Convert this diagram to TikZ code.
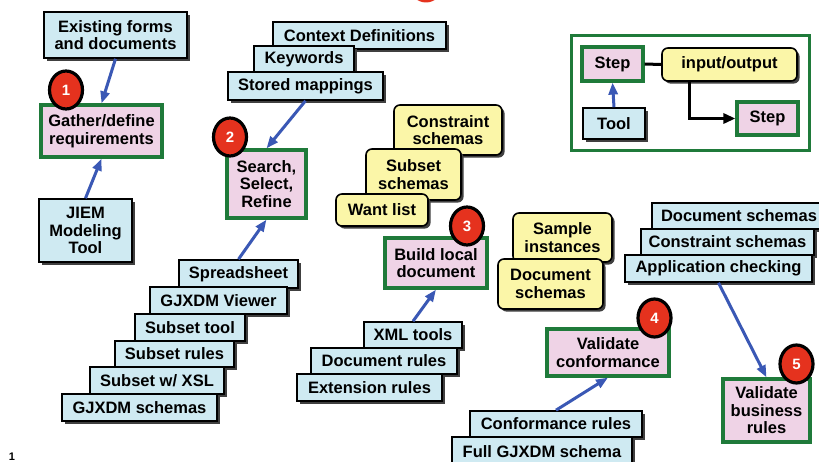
\documentclass[tikz,border=0pt]{standalone}
\usepackage{fontspec}
\setmainfont{Liberation Sans}
\usetikzlibrary{arrows.meta,shapes.geometric,shadows,calc}
\definecolor{stepfill}{HTML}{EFD3E6}
\definecolor{stepline}{HTML}{1F7A3A}
\definecolor{toolfill}{HTML}{CFEAF2}
\definecolor{iofill}{HTML}{FBF6A8}
\definecolor{badge}{HTML}{E5321E}
\definecolor{toolarrow}{HTML}{3A58B5}
\pgfdeclarelayer{bg}
\pgfsetlayers{bg,main}
\tikzset{
  lbl/.style={font=\bfseries\fontsize{16.5}{17.5}\selectfont, align=center, inner sep=0pt},
  shade/.style={drop shadow={shadow xshift=2.6pt, shadow yshift=-2.6pt, fill=black!75, opacity=1}},
  toolbox/.style={lbl, rectangle, fill=toolfill, draw=black, line width=1.6pt, shade},
  stepbox/.style={lbl, rectangle, fill=stepfill, draw=stepline, line width=3.2pt},
  iobox/.style={lbl, rectangle, rounded corners=6pt, fill=iofill, draw=black, line width=1.6pt, shade},
  numbadge/.style={ellipse, fill=badge, draw=black, line width=3.2pt, inner sep=0pt,
    minimum width=33pt, minimum height=38pt, text=white, font=\bfseries\fontsize{15}{15}\selectfont},
  flow/.style={draw=black, line width=3pt, -{Triangle[length=12pt,width=10pt]}},
  feed/.style={draw=toolarrow, line width=3pt, -{Triangle[length=12pt,width=9pt]}},
  sz/.style 2 args={minimum width=#1pt, minimum height=#2pt}
}
\begin{document}
\begin{tikzpicture}[x=1pt, y=-1pt]
\clip (0,0) rectangle (819,462);
\fill[white] (0,0) rectangle (819,462);

% edge of a badge that sits above the top border
\fill[badge] (426,-13.5) circle[radius=16pt];

% ---- legend ----
\node[draw=stepline, line width=3.2pt, sz={238}{115}, inner sep=0pt] (legend) at (690.5,93) {};
\node[stepbox, sz={61}{34}] (lstepa) at (612.5,64) {Step};
\node[iobox, sz={135}{33}] (lio) at (729.5,64.5) {input/output};
\node[toolbox, sz={62}{31}] (ltool) at (614,123.5) {Tool};
\node[stepbox, sz={61}{33}] (lstepb) at (767.5,118.5) {Step};
\draw[line width=3pt] (lstepa.east) -- (lio.west);
\draw[flow] ($(lio.south west)+(28,0)$) |- (lstepb.west);
\draw[feed] (ltool.north) -- (lstepa.south);

% ---- step 1 ----
\node[toolbox, sz={143}{46}] (existing) at (115.5,35) {Existing forms\\and documents};
\node[stepbox, sz={121}{52}] (gather) at (101.5,131) {Gather/define\\requirements};
\node[toolbox, sz={93}{63}] (jiem) at (85.5,230.5) {JIEM\\Modeling\\Tool};

% ---- step 2 ----
\node[toolbox, sz={173}{27}] (ctxdef) at (359.5,35.5) {Context Definitions};
\node[toolbox, sz={100}{26}] (keywords) at (304,59) {Keywords};
\node[toolbox, sz={155}{28}] (stored) at (305.5,86) {Stored mappings};
\node[stepbox, sz={79}{68}] (search) at (266.5,184) {Search,\\Select,\\Refine};

\node[toolbox, sz={119}{28}] (sheet) at (238.5,274) {Spreadsheet};
\node[toolbox, sz={137}{27}] (viewer) at (218.5,300.5) {GJXDM Viewer};
\node[toolbox, sz={110}{27}] (subtool) at (190,327.5) {Subset tool};
\node[toolbox, sz={119}{26}] (subrules) at (174.5,354) {Subset rules};
\node[toolbox, sz={134}{27}] (subxsl) at (157,380.5) {Subset w/ XSL};
\node[toolbox, sz={155}{27}] (gjschemas) at (139.5,407.5) {GJXDM schemas};

% ---- outputs of step 2 ----
\node[iobox, sz={108}{50}] (conschema) at (448,130) {Constraint\\schemas};
\node[iobox, sz={95}{51}] (subschema) at (413.5,174.5) {Subset\\schemas};
\node[iobox, sz={92}{32}] (want) at (382,210) {Want list};

% ---- step 3 ----
\node[stepbox, sz={102}{50}] (build) at (436,263) {Build local\\document};
\node[toolbox, sz={98}{26}] (xmltools) at (413,335) {XML tools};
\node[toolbox, sz={146}{26}] (docrules) at (384,361) {Document rules};
\node[toolbox, sz={145}{27}] (extrules) at (369.5,387.5) {Extension rules};

\node[iobox, sz={99}{49}] (sample) at (562.5,237.5) {Sample\\instances};
\node[iobox, sz={105}{50}] (docschema) at (550.5,284) {Document\\schemas};

% ---- step 4 ----
\node[stepbox, sz={122}{47}] (valconf) at (608,352.5) {Validate\\conformance};
\node[toolbox, sz={172}{26}] (confrules) at (556,424) {Conformance rules};
\node[toolbox, sz={180}{29}] (fullgj) at (542,451.5) {Full GJXDM schema};

% ---- step 5 ----
\node[toolbox, sz={174}{26}] (bdocs) at (739,216) {Document schemas};
\node[toolbox, sz={173}{26}] (bcons) at (727.5,242) {Constraint schemas};
\node[toolbox, sz={187}{27}] (appchk) at (718.5,268.5) {Application checking};
\node[stepbox, sz={87}{63}] (valbus) at (766.5,410.5) {Validate\\business\\rules};

% ---- process flow (behind the output boxes) ----
\begin{pgfonlayer}{bg}
\draw[flow] (gather.east) -- ++(31,0) |- (search.west);
\draw[flow] (search.east) -- ++(40,0) |- (build.west);
\draw[flow] (build.east) -- ++(30,0) |- (valconf.west);
\draw[flow] (valconf.east) -- ++(27,0) |- (valbus.west);
\end{pgfonlayer}

% ---- tools feeding the steps ----
\draw[feed] (existing.south) -- (gather.north);
\draw[feed] (jiem.north) -- (gather.south);
\draw[feed] (stored.south) -- (search.north);
\draw[feed] (sheet.north) -- (search.south);
\draw[feed] (xmltools.north) -- (build.south);
\draw[feed] (confrules.north) -- (valconf.south);
\draw[feed] (appchk.south) -- (valbus.north);

% ---- step numbers ----
\node[numbadge] (b1) at (66,90) {1};
\node[numbadge] (b2) at (230,137) {2};
\node[numbadge] (b3) at (467,226) {3};
\node[numbadge] (b4) at (654.5,318) {4};
\node[numbadge] (b5) at (796.5,364) {5};

% page number
\node[font=\bfseries\fontsize{11}{11}\selectfont, inner sep=0pt] (pageno) at (12,457) {1};
\end{tikzpicture}
\end{document}
